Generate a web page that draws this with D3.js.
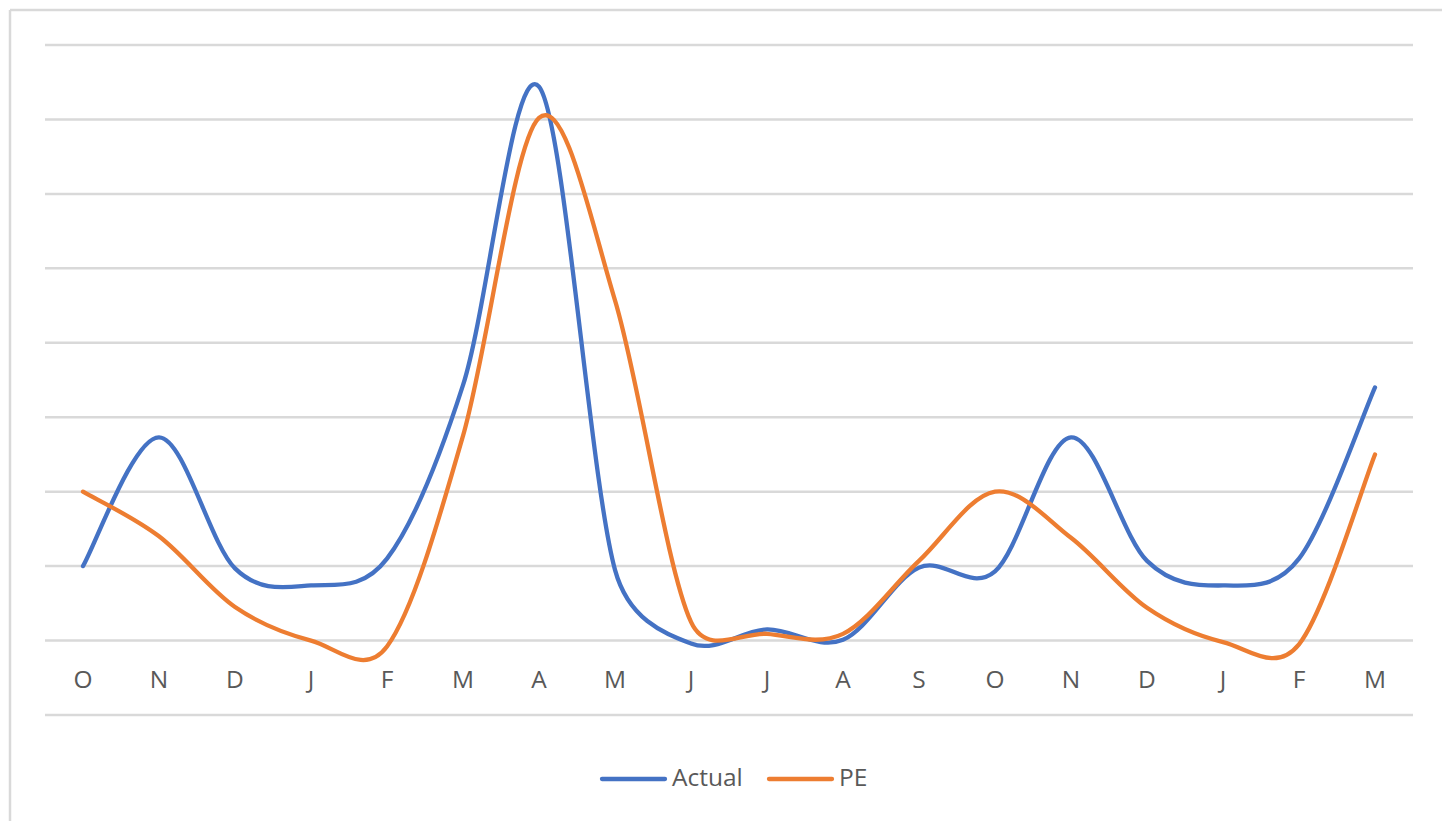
<!DOCTYPE html>
<html>
<head>
<meta charset="utf-8">
<script src="https://cdn.jsdelivr.net/npm/d3@7"></script>
<style>
  html, body { margin: 0; padding: 0; background: #fff; }
  svg { display: block; }
  text { font-family: "Open Sans", "Noto Sans", sans-serif; fill: #595959; }
</style>
</head>
<body>
<svg id="chart" width="1442" height="821"></svg>
<script>
const categories = ["O","N","D","J","F","M","A","M","J","J","A","S","O","N","D","J","F","M"];
const actual = [1.0, 2.73, 0.97, 0.74, 1.1, 3.43, 7.44, 0.95, -0.04, 0.15, 0.01, 0.98, 0.93, 2.73, 1.07, 0.74, 1.1, 3.4];
const pe     = [2.0, 1.4, 0.45, 0.0, -0.08, 2.75, 7.02, 4.57, 0.25, 0.09, 0.09, 1.07, 2.0, 1.38, 0.44, -0.02, -0.05, 2.5];
const yTicks = [-1, 0, 1, 2, 3, 4, 5, 6, 7, 8];
const seriesNames = ["Actual", "PE"];
const colors = ["#4472C4", "#ED7D31"];

const svg = d3.select("#chart");

// outer frame (top and left edges visible)
svg.append("line").attr("x1", 10).attr("y1", 10).attr("x2", 1442).attr("y2", 10)
  .attr("stroke", "#d9d9d9").attr("stroke-width", 2.5);
svg.append("line").attr("x1", 10).attr("y1", 10).attr("x2", 10).attr("y2", 821)
  .attr("stroke", "#d9d9d9").attr("stroke-width", 2.5);

const x = d3.scaleBand().domain(d3.range(categories.length)).range([45, 1413]);
const cx = i => x(i) + x.bandwidth() / 2;
const y = d3.scaleLinear().domain([-1, 8]).range([715, 45]);

// gridlines
svg.append("g").selectAll("line").data(yTicks).join("line")
  .attr("x1", 45).attr("x2", 1413)
  .attr("y1", d => y(d)).attr("y2", d => y(d))
  .attr("stroke", "#d9d9d9").attr("stroke-width", 2.5);

// category labels
svg.append("g").selectAll("text").data(categories).join("text")
  .attr("x", (d, i) => cx(i)).attr("y", 688)
  .attr("text-anchor", "middle")
  .attr("font-size", 24.5)
  .text(d => d);

// Excel-style smoothed line (Bezier with clamped 1/6 control arms)
function excelSmooth(values) {
  const pts = values.map((v, i) => [cx(i), y(v)]);
  const dist = (a, b) => Math.hypot(a[0] - b[0], a[1] - b[1]);
  const p = d3.path();
  p.moveTo(pts[0][0], pts[0][1]);
  const n = pts.length;
  for (let i = 0; i < n - 1; i++) {
    const p0 = pts[Math.max(i - 1, 0)], p1 = pts[i], p2 = pts[i + 1], p3 = pts[Math.min(i + 2, n - 1)];
    const d02 = dist(p0, p2), d12 = dist(p1, p2), d13 = dist(p1, p3);
    const f = 1 / 6;
    const f1 = (d02 / 6 < d12 / 2) ? f : (d02 > 0 ? d12 / (2 * d02) : 0);
    const f2 = (d13 / 6 < d12 / 2) ? f : (d13 > 0 ? d12 / (2 * d13) : 0);
    const c1 = [p1[0] + f1 * (p2[0] - p0[0]), p1[1] + f1 * (p2[1] - p0[1])];
    const c2 = [p2[0] - f2 * (p3[0] - p1[0]), p2[1] - f2 * (p3[1] - p1[1])];
    p.bezierCurveTo(c1[0], c1[1], c2[0], c2[1], p2[0], p2[1]);
  }
  return p.toString();
}

[actual, pe].forEach((s, k) => {
  svg.append("path").datum(s)
    .attr("d", excelSmooth)
    .attr("fill", "none")
    .attr("stroke", colors[k])
    .attr("stroke-width", 4.3)
    .attr("stroke-linecap", "round")
    .attr("stroke-linejoin", "round");
});

// legend
const legendX = [602, 769];
seriesNames.forEach((n, k) => {
  svg.append("line").attr("x1", legendX[k]).attr("x2", legendX[k] + 63)
    .attr("y1", 779).attr("y2", 779)
    .attr("stroke", colors[k]).attr("stroke-width", 4.3).attr("stroke-linecap", "round");
  svg.append("text").attr("x", legendX[k] + 70).attr("y", 786)
    .attr("font-size", 24.5).text(n);
});
</script>
</body>
</html>
